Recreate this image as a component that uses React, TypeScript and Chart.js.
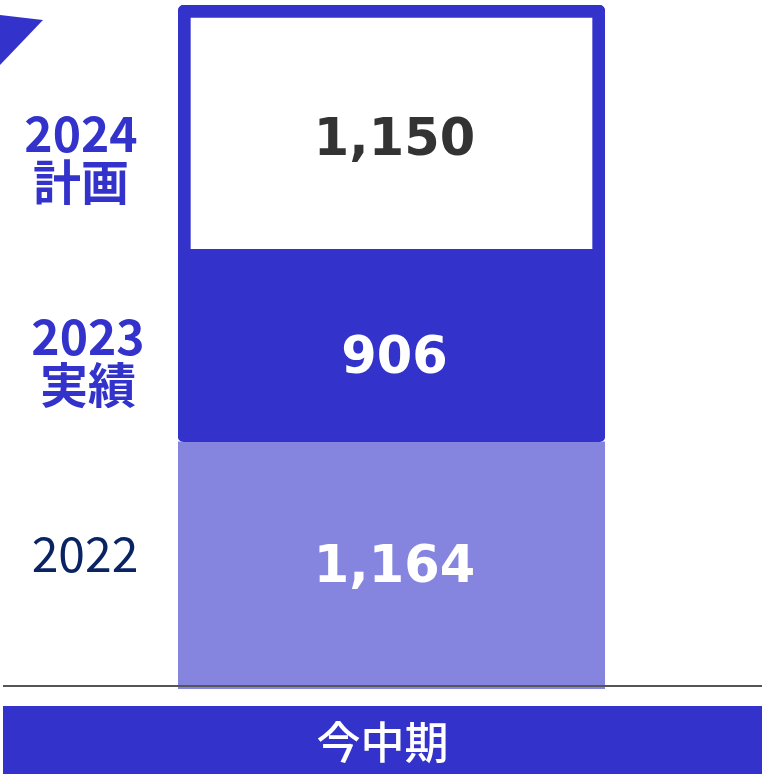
import React, { useEffect, useRef } from "react";
import { Chart, registerables } from "chart.js";

Chart.register(...registerables);

const categories = ["今中期"];
const seriesNames = ["2022", "2023", "2024"];
const seriesSubNames = ["", "実績", "計画"];
const values2022 = [1164];
const values2023 = [906];
const values2024 = [1150];
const valueLabels = ["1,164", "906", "1,150"];

const BLUE = "#3333cc";
const LIGHT = "rgba(51,51,204,0.6)";
const NAVY = "#0a2463";

const decorPlugin = {
  id: "decor",
  afterDatasetsDraw(chart: any) {
    const ctx = chart.ctx as CanvasRenderingContext2D;
    const y = chart.scales.y;
    const H = chart.height;
    ctx.save();
    const valueOffsets = [17, 27, 28];
    const valueColors = ["#ffffff", "#ffffff", "#333333"];
    let base = 0;
    const centers: number[] = [];
    chart.data.datasets.forEach((ds: any, i: number) => {
      const v = ds.data[0];
      const top = y.getPixelForValue(base + v);
      const bot = y.getPixelForValue(base);
      centers.push((top + bot) / 2);
      base += v;
      const bar = chart.getDatasetMeta(i).data[0];
      ctx.font = "bold 51px 'DejaVu Sans'";
      ctx.fillStyle = valueColors[i];
      ctx.textAlign = "center";
      ctx.textBaseline = "alphabetic";
      ctx.fillText(valueLabels[i], bar.x + 3, (top + bot) / 2 + valueOffsets[i]);
    });
    const labelX = [85, 88, 81];
    const labelOffsets = [6.6, 9.5, 25];
    seriesNames.forEach((name, i) => {
      const bold = i > 0;
      ctx.font = (bold ? "bold " : "") + "48px 'Noto Sans CJK JP'";
      ctx.fillStyle = bold ? BLUE : NAVY;
      ctx.textAlign = "center";
      ctx.textBaseline = "alphabetic";
      const by = centers[i] + labelOffsets[i];
      ctx.fillText(name, labelX[i], by);
      if (seriesSubNames[i]) ctx.fillText(seriesSubNames[i], labelX[i], by + 48);
    });
    const y0 = y.getPixelForValue(0) - 3;
    ctx.strokeStyle = "#555555";
    ctx.lineWidth = 2;
    ctx.beginPath();
    ctx.moveTo(3, y0);
    ctx.lineTo(762, y0);
    ctx.stroke();
    ctx.fillStyle = BLUE;
    ctx.fillRect(3, y0 + 20, 759, H - (y0 + 20));
    ctx.fillStyle = "#ffffff";
    ctx.font = "500 44px 'Noto Sans CJK JP'";
    ctx.textAlign = "center";
    ctx.textBaseline = "middle";
    ctx.fillText(chart.data.labels[0], (3 + 762) / 2, (y0 + 20 + H) / 2 + 2);
    ctx.fillStyle = BLUE;
    ctx.beginPath();
    ctx.moveTo(0, 15);
    ctx.lineTo(43, 20);
    ctx.lineTo(0, 65);
    ctx.closePath();
    ctx.fill();
    ctx.restore();
  },
};

export default function App() {
  const ref = useRef<HTMLCanvasElement>(null);
  useEffect(() => {
    const total = values2022[0] + values2023[0] + values2024[0];
    const chart = new Chart(ref.current!, {
      type: "bar",
      data: {
        labels: categories,
        datasets: [
          {
            label: "2022",
            data: values2022,
            backgroundColor: LIGHT,
            borderWidth: 0,
          },
          {
            label: "2023",
            data: values2023,
            backgroundColor: BLUE,
            borderWidth: 0,
            borderSkipped: false,
            borderRadius: { topLeft: 0, topRight: 0, bottomLeft: 6, bottomRight: 6 },
          },
          {
            label: "2024",
            data: values2024,
            backgroundColor: "#ffffff",
            borderColor: BLUE,
            borderWidth: 13,
            borderSkipped: "bottom",
            borderRadius: { topLeft: 6, topRight: 6, bottomLeft: 0, bottomRight: 0 },
          },
        ],
      },
      options: {
        animation: false,
        responsive: false,
        devicePixelRatio: 1,
        layout: { padding: { left: 178, right: 162, top: 5, bottom: 85 } },
        datasets: { bar: { categoryPercentage: 1, barPercentage: 1 } },
        plugins: { legend: { display: false }, tooltip: { enabled: false } },
        scales: {
          x: { stacked: true, display: false },
          y: { stacked: true, display: false, min: 0, max: total },
        },
      },
      plugins: [decorPlugin],
    });
    return () => chart.destroy();
  }, []);
  return (
    <div style={{ position: "absolute", left: 0, top: 0, width: 767, height: 774, background: "#fff" }}>
      <canvas ref={ref} width={767} height={774} style={{ display: "block" }} />
    </div>
  );
}
